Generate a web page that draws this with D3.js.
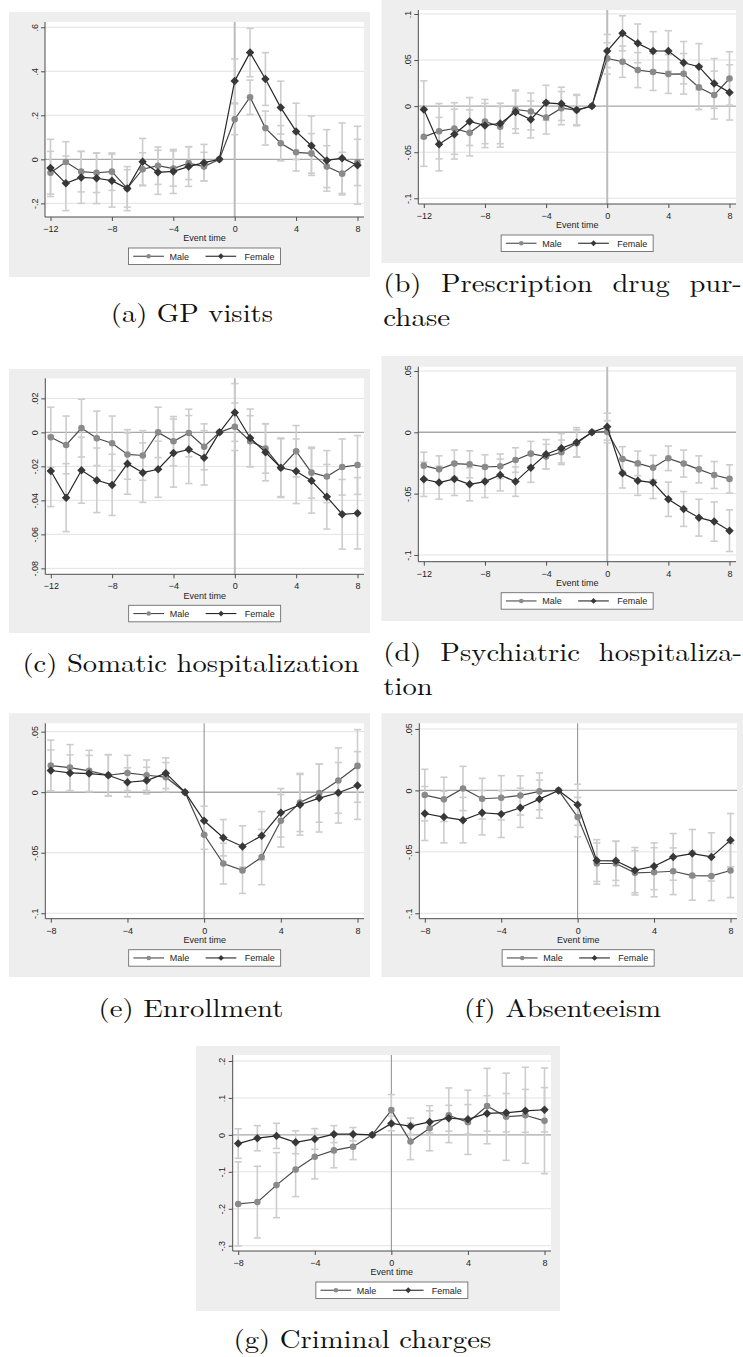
<!DOCTYPE html>
<html>
<head>
<meta charset="utf-8">
<script src="https://cdn.jsdelivr.net/npm/d3@7"></script>
<style>
  html, body { margin: 0; padding: 0; background: #ffffff; }
  svg { display: block; }
</style>
</head>
<body>
<svg id="fig" width="743" height="1357"></svg>
<script>
// ---------- event-time categories ----------
const timeLong  = [-12, -11, -10, -9, -8, -7, -6, -5, -4, -3, -2, -1, 0, 1, 2, 3, 4, 5, 6, 7, 8];
const timeShort = [-8, -7, -6, -5, -4, -3, -2, -1, 0, 1, 2, 3, 4, 5, 6, 7, 8];
const xTicksLong  = [-12, -8, -4, 0, 4, 8];
const xTicksShort = [-8, -4, 0, 4, 8];

// ---------- (a) GP visits ----------
const gpMale       = [-0.061, -0.012, -0.056, -0.061, -0.056, -0.132, -0.045, -0.029, -0.042, -0.017, -0.033, 0, 0.182, 0.282, 0.142, 0.073, 0.032, 0.027, -0.033, -0.065, -0.014];
const gpFemale     = [-0.039, -0.109, -0.082, -0.086, -0.097, -0.133, -0.011, -0.059, -0.055, -0.033, -0.015, 0, 0.356, 0.485, 0.365, 0.235, 0.127, 0.062, -0.005, 0.005, -0.027];
const gpMaleCI     = [0.097, 0.092, 0.092, 0.090, 0.085, 0.085, 0.075, 0.085, 0.080, 0.075, 0.065, null, 0.070, 0.078, 0.077, 0.080, 0.085, 0.090, 0.095, 0.097, 0.105];
const gpFemaleCI   = [0.130, 0.124, 0.118, 0.115, 0.120, 0.100, 0.106, 0.100, 0.100, 0.090, 0.083, null, 0.100, 0.110, 0.120, 0.120, 0.128, 0.135, 0.140, 0.160, 0.177];
const gpTicks      = [-0.2, 0, 0.2, 0.4, 0.6];

// ---------- (b) Prescription drug purchase ----------
const rxMale       = [-0.0333, -0.0272, -0.0243, -0.029, -0.0167, -0.0225, -0.0036, -0.0058, -0.0123, -0.0022, -0.0043, 0, 0.0518, 0.0482, 0.0391, 0.037, 0.0348, 0.0351, 0.0203, 0.012, 0.030];
const rxFemale     = [-0.0036, -0.0413, -0.0304, -0.0167, -0.021, -0.0188, -0.0065, -0.0145, 0.0036, 0.0025, -0.0043, 0, 0.0598, 0.079, 0.0681, 0.0598, 0.0598, 0.0471, 0.0428, 0.0246, 0.0149];
const rxMaleCI     = [0.032, 0.030, 0.028, 0.025, 0.024, 0.022, 0.021, 0.020, 0.018, 0.018, 0.016, null, 0.017, 0.017, 0.019, 0.020, 0.021, 0.022, 0.024, 0.026, 0.029];
const rxFemaleCI   = [0.031, 0.029, 0.027, 0.026, 0.024, 0.022, 0.023, 0.020, 0.019, 0.018, 0.017, null, 0.018, 0.019, 0.021, 0.021, 0.022, 0.023, 0.025, 0.027, 0.030];
const rxTicks      = [-0.1, -0.05, 0, 0.05, 0.1];

// ---------- (c) Somatic hospitalization ----------
const somMale      = [-0.0029, -0.0074, 0.0025, -0.0035, -0.0064, -0.013, -0.0136, 0, -0.0052, -0.0004, -0.0085, 0, 0.0033, -0.0052, -0.0095, -0.0208, -0.0111, -0.0237, -0.026, -0.0204, -0.0192];
const somFemale    = [-0.0227, -0.0384, -0.0223, -0.0282, -0.0309, -0.0184, -0.0237, -0.0217, -0.0122, -0.0101, -0.015, 0, 0.0117, -0.0033, -0.0117, -0.0208, -0.0229, -0.0285, -0.0379, -0.0482, -0.0476];
const somMaleCI    = [0.0177, 0.017, 0.017, 0.016, 0.016, 0.0146, 0.0146, 0.0148, 0.0145, 0.014, 0.0135, null, 0.014, 0.015, 0.0145, 0.0175, 0.0151, 0.015, 0.0153, 0.0165, 0.0173];
const somFemaleCI  = [0.021, 0.020, 0.0194, 0.019, 0.018, 0.018, 0.0175, 0.0165, 0.020, 0.020, 0.016, null, 0.017, 0.017, 0.0168, 0.017, 0.019, 0.019, 0.019, 0.0205, 0.021];
const somTicks     = [-0.08, -0.06, -0.04, -0.02, 0, 0.02];

// ---------- (d) Psychiatric hospitalization ----------
const psyMale      = [-0.0272, -0.0302, -0.0255, -0.0261, -0.0283, -0.0277, -0.0226, -0.0174, -0.0198, -0.0163, -0.009, 0, 0.0005, -0.0217, -0.0253, -0.0288, -0.0212, -0.0255, -0.0302, -0.0348, -0.038];
const psyFemale    = [-0.0383, -0.041, -0.038, -0.0424, -0.0402, -0.0348, -0.0402, -0.0288, -0.0179, -0.013, -0.0082, 0, 0.0046, -0.0334, -0.0394, -0.041, -0.0546, -0.0625, -0.0696, -0.0728, -0.0802];
const psyMaleCI    = [0.011, 0.011, 0.011, 0.011, 0.010, 0.010, 0.010, 0.010, 0.010, 0.010, 0.011, null, 0.009, 0.010, 0.010, 0.010, 0.010, 0.011, 0.011, 0.011, 0.0115];
const psyFemaleCI  = [0.014, 0.0135, 0.0135, 0.0135, 0.013, 0.013, 0.012, 0.012, 0.012, 0.012, 0.012, null, 0.011, 0.012, 0.012, 0.013, 0.014, 0.0142, 0.015, 0.016, 0.017];
const psyTicks     = [-0.1, -0.05, 0, 0.05];

// ---------- (e) Enrollment ----------
const enrMale      = [0.022, 0.0203, 0.0176, 0.014, 0.0159, 0.014, 0.0124, 0, -0.0352, -0.059, -0.0646, -0.0536, -0.0236, -0.0085, -0.0008, 0.0096, 0.0217];
const enrFemale    = [0.0179, 0.0159, 0.0154, 0.014, 0.0082, 0.0096, 0.0157, 0, -0.0236, -0.0376, -0.0448, -0.036, -0.017, -0.0104, -0.0049, -0.0005, 0.0055];
const enrMaleCI    = [0.021, 0.019, 0.017, 0.017, 0.0146, 0.0126, 0.012, null, 0.012, 0.0168, 0.019, 0.0228, 0.0217, 0.024, 0.024, 0.027, 0.030];
const enrFemaleCI  = [0.017, 0.015, 0.015, 0.017, 0.012, 0.011, 0.0127, null, 0.012, 0.015, 0.017, 0.020, 0.020, 0.025, 0.028, 0.025, 0.028];
const enrTicks     = [-0.1, -0.05, 0, 0.05];

// ---------- (f) Absenteeism ----------
const absMale      = [-0.0038, -0.0073, 0.0016, -0.0068, -0.006, -0.0041, -0.0008, 0, -0.0217, -0.0595, -0.0595, -0.0671, -0.0666, -0.0658, -0.0693, -0.0696, -0.0652];
const absFemale    = [-0.0188, -0.0217, -0.0242, -0.0182, -0.0193, -0.0141, -0.0071, 0, -0.0117, -0.0571, -0.0573, -0.0649, -0.0617, -0.0541, -0.0514, -0.0541, -0.0405];
const absMaleCI    = [0.021, 0.018, 0.018, 0.0166, 0.018, 0.016, 0.015, null, 0.016, 0.0168, 0.018, 0.018, 0.020, 0.019, 0.020, 0.020, 0.022];
const absFemaleCI  = [0.022, 0.021, 0.0185, 0.018, 0.019, 0.016, 0.0155, null, 0.0167, 0.017, 0.016, 0.0184, 0.019, 0.019, 0.0196, 0.0196, 0.0217];
const absTicks     = [-0.1, -0.05, 0, 0.05];

// ---------- (g) Criminal charges ----------
const crimMale     = [-0.187, -0.182, -0.136, -0.094, -0.059, -0.042, -0.032, 0, 0.067, -0.018, 0.018, 0.053, 0.034, 0.078, 0.049, 0.053, 0.038];
const crimFemale   = [-0.0235, -0.009, -0.0027, -0.020, -0.011, 0.002, 0.002, 0, 0.031, 0.0235, 0.035, 0.045, 0.042, 0.058, 0.060, 0.065, 0.068];
const crimMaleCI   = [0.114, 0.097, 0.088, 0.073, 0.060, 0.047, 0.035, null, 0.042, 0.049, 0.061, 0.074, 0.087, 0.102, 0.118, 0.130, 0.143];
const crimFemaleCI = [0.040, 0.034, 0.034, 0.031, 0.028, 0.023, 0.018, null, 0.020, 0.022, 0.030, 0.035, 0.040, 0.048, 0.052, 0.058, 0.060];
const crimTicks    = [-0.3, -0.2, -0.1, 0, 0.1, 0.2];

const legendLabels = ["Male", "Female"];
const axisTitle = "Event time";

// ---------- layout of each graph on the page ----------
const panels = [
  { x: timeLong,  male: gpMale,   female: gpFemale,   maleCI: gpMaleCI,   femaleCI: gpFemaleCI,   yTicks: gpTicks,   xTicks: xTicksLong,
    box: [9, 12, 370, 277],        plot: [45, 22, 364, 217],          yDomain: [-0.262, 0.624],   vline: "light" },
  { x: timeLong,  male: rxMale,   female: rxFemale,   maleCI: rxMaleCI,   femaleCI: rxFemaleCI,   yTicks: rxTicks,   xTicks: xTicksLong,
    box: [381.5, -10, 750, 263],   plot: [418.3, 10, 736, 204],       yDomain: [-0.1062, 0.1043], vline: "light" },
  { x: timeLong,  male: somMale,  female: somFemale,  maleCI: somMaleCI,  femaleCI: somFemaleCI,  yTicks: somTicks,  xTicks: xTicksLong,
    box: [9, 369, 370, 633],       plot: [45.3, 378.3, 364, 574.3],   yDomain: [-0.0835, 0.0318], vline: "light" },
  { x: timeLong,  male: psyMale,  female: psyFemale,  maleCI: psyMaleCI,  femaleCI: psyFemaleCI,  yTicks: psyTicks,  xTicks: xTicksLong,
    box: [381.5, 356, 750, 621],   plot: [418.3, 366.7, 736, 561.7],  yDomain: [-0.1055, 0.0535], vline: "light" },
  { x: timeShort, male: enrMale,  female: enrFemale,  maleCI: enrMaleCI,  femaleCI: enrFemaleCI,  yTicks: enrTicks,  xTicks: xTicksShort,
    box: [9, 713.3, 370, 977],     plot: [45.3, 723.3, 364, 918.7],   yDomain: [-0.1045, 0.0569], vline: "dark" },
  { x: timeShort, male: absMale,  female: absFemale,  maleCI: absMaleCI,  femaleCI: absFemaleCI,  yTicks: absTicks,  xTicks: xTicksShort,
    box: [381.5, 713.3, 750, 977], plot: [419.3, 723.3, 737, 918.7],  yDomain: [-0.1044, 0.0546], vline: "dark" },
  { x: timeShort, male: crimMale, female: crimFemale, maleCI: crimMaleCI, femaleCI: crimFemaleCI, yTicks: crimTicks, xTicks: xTicksShort,
    box: [196, 1046, 560, 1311],   plot: [232.7, 1055, 551, 1251],   yDomain: [-0.3143, 0.2162], vline: "dark" }
];

// sub-figure captions (words placed to reproduce justified lines)
const captions = [
  { words: [["(a) GP visits", 110.8, 322, 162.2]] },
  { words: [["(b)", 383.3, 292, 38.2], ["Prescription", 441, 292, 151.7], ["drug", 612.4, 292, 57.3], ["pur-", 689.4, 292, 52.5],
            ["chase", 383.3, 325.5, 66.9]] },
  { words: [["(c) Somatic hospitalization", 22.5, 672, 337]] },
  { words: [["(d)", 383.3, 661, 38.2], ["Psychiatric", 440.3, 661, 139.7], ["hospitaliza-", 598.8, 661, 143.2],
            ["tion", 383.3, 694.5, 49.3]] },
  { words: [["(e) Enrollment", 98.6, 1017, 184.8]] },
  { words: [["(f) Absenteeism", 463.9, 1017, 197.3]] },
  { words: [["(g) Criminal charges", 233.5, 1348, 257.7]] }
];

// ---------- styling ----------
const BG = "#eeeeee";
const GRID = "#e2e2e2";
const ZERO = "#a8a8a8";
const CI_COLOR = "#cdcdcd";
const MALE_LINE = "#4a4a4a", FEMALE_LINE = "#262626";
const MALE_MARK = "#8a8a8a", FEMALE_MARK = "#383838";
const SANS = "'Liberation Sans', Arial, Helvetica, sans-serif";
const SERIF = "'Latin Modern Roman', 'CMU Serif', 'Liberation Serif', 'Times New Roman', serif";
const TEXT = "#1e1e1e";

const fmtTick = v => v === 0 ? "0" : String(+v.toFixed(4)).replace("0.", ".");

const svg = d3.select("#fig");

function drawPanel(p) {
  const g = svg.append("g");
  const [bx0, by0, bx1, by1] = p.box;
  const [l, t, r, b] = p.plot;

  g.append("rect").attr("x", bx0).attr("y", by0).attr("width", bx1 - bx0).attr("height", by1 - by0).attr("fill", BG);
  g.append("rect").attr("x", l).attr("y", t).attr("width", r - l).attr("height", b - t).attr("fill", "#ffffff");

  const x = d3.scaleLinear().domain(d3.extent(p.x)).range([l + 5.5, r - 6.5]);
  const y = d3.scaleLinear().domain(p.yDomain).range([b, t]);

  // horizontal grid lines
  g.selectAll("line.grid").data(p.yTicks.filter(v => v !== 0)).join("line")
    .attr("x1", l).attr("x2", r).attr("y1", d => y(d)).attr("y2", d => y(d))
    .attr("stroke", GRID).attr("stroke-width", 1);

  // reference line at zero
  g.append("line").attr("x1", l).attr("x2", r).attr("y1", y(0)).attr("y2", y(0))
    .attr("stroke", ZERO).attr("stroke-width", 1.4);

  // event line at time 0
  g.append("line").attr("x1", x(0)).attr("x2", x(0)).attr("y1", t).attr("y2", b)
    .attr("stroke", p.vline === "light" ? "#bcbcbc" : "#8c8c8c")
    .attr("stroke-width", p.vline === "light" ? 2 : 1);

  const series = [
    { v: p.male,   ci: p.maleCI,   line: MALE_LINE,   mark: MALE_MARK,   shape: "circle" },
    { v: p.female, ci: p.femaleCI, line: FEMALE_LINE, mark: FEMALE_MARK, shape: "diamond" }
  ];

  // confidence intervals (capped spikes)
  const capW = 3.6;
  series.forEach(s => {
    const rows = p.x.map((xv, i) => ({ x: xv, lo: s.v[i] - (s.ci[i] || 0), hi: s.v[i] + (s.ci[i] || 0), has: s.ci[i] != null }))
      .filter(d => d.has);
    const cg = g.append("g").attr("stroke", CI_COLOR).attr("stroke-width", 1.6).attr("fill", "none");
    cg.selectAll("line.spike").data(rows).join("line")
      .attr("x1", d => x(d.x)).attr("x2", d => x(d.x)).attr("y1", d => y(d.lo)).attr("y2", d => y(d.hi));
    cg.selectAll("line.capHi").data(rows).join("line")
      .attr("x1", d => x(d.x) - capW).attr("x2", d => x(d.x) + capW).attr("y1", d => y(d.hi)).attr("y2", d => y(d.hi));
    cg.selectAll("line.capLo").data(rows).join("line")
      .attr("x1", d => x(d.x) - capW).attr("x2", d => x(d.x) + capW).attr("y1", d => y(d.lo)).attr("y2", d => y(d.lo));
  });

  // connected estimates
  const line = d3.line().x(d => x(d[0])).y(d => y(d[1]));
  series.forEach(s => {
    const pts = p.x.map((xv, i) => [xv, s.v[i]]);
    g.append("path").attr("d", line(pts)).attr("fill", "none").attr("stroke", s.line).attr("stroke-width", 1.2);
    const mg = g.append("g");
    if (s.shape === "circle") {
      mg.selectAll("circle").data(pts).join("circle")
        .attr("cx", d => x(d[0])).attr("cy", d => y(d[1])).attr("r", 3.3).attr("fill", s.mark);
    } else {
      const diamond = d3.symbol().type(d3.symbolSquare).size(36)();
      mg.selectAll("path").data(pts).join("path")
        .attr("d", diamond)
        .attr("transform", d => `translate(${x(d[0])},${y(d[1])}) rotate(45)`)
        .attr("fill", s.mark);
    }
  });

  // axes
  const axisColor = "#4d4d4d";
  const yAxis = g.append("g").attr("transform", `translate(${l},0)`)
    .call(d3.axisLeft(y).tickValues(p.yTicks).tickFormat(fmtTick).tickSize(4).tickSizeOuter(0));
  yAxis.select(".domain").remove();
  yAxis.selectAll(".tick line").attr("stroke", axisColor);
  yAxis.selectAll(".tick text")
    .attr("transform", "rotate(-90)").attr("x", 0).attr("y", -7.5).attr("dy", 0)
    .attr("text-anchor", "middle").attr("fill", TEXT)
    .style("font-family", SANS).style("font-size", "9px");

  const xAxis = g.append("g").attr("transform", `translate(0,${b})`)
    .call(d3.axisBottom(x).tickValues(p.xTicks).tickFormat(d3.format("d")).tickSize(4).tickPadding(4.5).tickSizeOuter(0));
  xAxis.select(".domain").remove();
  xAxis.selectAll(".tick line").attr("stroke", axisColor);
  xAxis.selectAll(".tick text").attr("fill", TEXT).style("font-family", SANS).style("font-size", "9px");

  g.append("line").attr("x1", l).attr("x2", l).attr("y1", t).attr("y2", b).attr("stroke", axisColor).attr("stroke-width", 1);
  g.append("line").attr("x1", l).attr("x2", r).attr("y1", b).attr("y2", b).attr("stroke", axisColor).attr("stroke-width", 1);

  g.append("text").attr("x", (l + r) / 2).attr("y", b + 24.3).attr("text-anchor", "middle")
    .attr("fill", TEXT).style("font-family", SANS).style("font-size", "9px").text(axisTitle);

  // legend
  const lw = 152, lh = 16.5;
  const lx = (l + r) / 2 - lw / 2, ly = b + 31;
  const lg = g.append("g").attr("transform", `translate(${lx},${ly})`);
  lg.append("rect").attr("width", lw).attr("height", lh).attr("fill", "#ffffff").attr("stroke", "#6e6e6e").attr("stroke-width", 0.9);
  const items = [
    { x0: 4.7, label: legendLabels[0], s: series[0], tx: 41 },
    { x0: 77, label: legendLabels[1], s: series[1], tx: 116 }
  ];
  items.forEach(it => {
    const cy = lh / 2;
    lg.append("line").attr("x1", it.x0).attr("x2", it.x0 + 30.7).attr("y1", cy).attr("y2", cy)
      .attr("stroke", it.s.line).attr("stroke-width", 1.1);
    if (it.s.shape === "circle") {
      lg.append("circle").attr("cx", it.x0 + 15.4).attr("cy", cy).attr("r", 2.3).attr("fill", it.s.mark);
    } else {
      lg.append("path").attr("d", d3.symbol().type(d3.symbolSquare).size(17)())
        .attr("transform", `translate(${it.x0 + 15.4},${cy}) rotate(45)`).attr("fill", it.s.mark);
    }
    lg.append("text").attr("x", it.tx).attr("y", cy + 3.3).attr("fill", TEXT)
      .style("font-family", SANS).style("font-size", "9px").text(it.label);
  });
}

panels.forEach(drawPanel);

// captions
captions.forEach(c => {
  c.words.forEach(([txt, wx, wy, wlen]) => {
    svg.append("text").attr("x", wx).attr("y", wy)
      .attr("textLength", wlen).attr("lengthAdjust", "spacingAndGlyphs")
      .attr("fill", "#111111").style("font-family", SERIF).style("font-size", "25.5px")
      .text(txt);
  });
});
</script>
</body>
</html>
